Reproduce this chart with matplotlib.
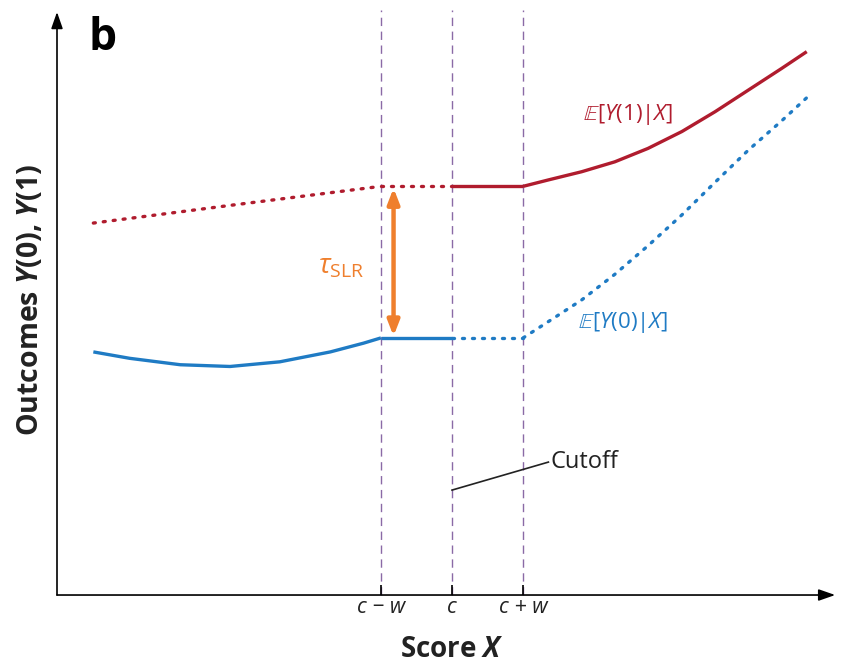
import matplotlib
matplotlib.use("Agg")
import matplotlib.pyplot as plt

# ---------------- data ----------------
c = 50.0
w = 9.0
x_max = 98.5          # end of the x-axis arrow
y_max = 100.0         # end of the y-axis arrow

# E[Y(1)|X]: dotted part left of c-w, flat dotted c-w..c, solid flat c..c+w, solid right
y1_left_x = [4.6, 22.3, 41.0]
y1_left_y = [63.8, 66.9, 70.1]
y1_flat = 70.1
y1_right_x = [59.0, 62.2, 66.4, 70.6, 74.8, 79.1, 83.3, 87.5, 91.7, 94.9]
y1_right_y = [70.1, 71.2, 72.6, 74.3, 76.6, 79.5, 82.9, 86.6, 90.3, 93.2]

# E[Y(0)|X]: solid left, solid flat c-w..c, dotted flat c..c+w, dotted right
y0_left_x = [4.6, 9.2, 15.6, 21.9, 28.2, 34.6, 38.8, 41.0]
y0_left_y = [41.7, 40.6, 39.5, 39.2, 40.0, 41.7, 43.2, 44.1]
y0_flat = 44.1
y0_right_x = [59.0, 62.2, 66.4, 70.6, 74.8, 79.1, 83.3, 87.5, 91.7, 94.9]
y0_right_y = [44.1, 46.9, 50.6, 55.0, 59.9, 65.2, 70.8, 76.3, 81.3, 85.3]

tick_pos = [c - w, c, c + w]
tick_labels = ["c \u2212 w", "c", "c + w"]
tau_x = 42.6

# ---------------- style ----------------
plt.rcParams['font.family'] = ['Open Sans', 'DejaVu Sans']
plt.rcParams['mathtext.fontset'] = 'custom'
plt.rcParams['mathtext.rm'] = 'Open Sans'
plt.rcParams['mathtext.it'] = 'Open Sans:italic'
plt.rcParams['mathtext.bf'] = 'Open Sans:bold'
plt.rcParams['mathtext.bfit'] = 'Open Sans:bold:italic'
plt.rcParams['mathtext.fallback'] = 'stix'

RED = '#b01c2e'
BLUE = '#1f7bc4'
ORANGE = '#ef7f2d'
PURPLE = '#8a6aa6'
TXT = '#222222'
LW = 2.4
DOT = (0, (0.6, 2.4))

fig = plt.figure(figsize=(8.46, 6.63), dpi=100)
ax = fig.add_axes([0, 0, 1, 1])
ax.set_xlim(-7.215, 99.87)
ax.set_ylim(-11.66, 102.06)
ax.axis('off')

# axes arrows
ax.annotate('', xy=(x_max, 0), xytext=(0, 0),
            arrowprops=dict(arrowstyle='-|>,head_length=1.0,head_width=0.35',
                            color='black', lw=1.2, shrinkA=0, shrinkB=0))
ax.annotate('', xy=(0, y_max), xytext=(0, 0),
            arrowprops=dict(arrowstyle='-|>,head_length=1.0,head_width=0.35',
                            color='black', lw=1.2, shrinkA=0, shrinkB=0))

# dashed verticals
ax.vlines(tick_pos, 0, y_max + 0.3, colors=PURPLE, linestyles=(0, (6, 4)), lw=1.0)
# ticks
ax.vlines(tick_pos, 0, 1.8, colors='black', lw=1.2)
for xp, lab in zip(tick_pos, tick_labels):
    ax.text(xp, -2.2, lab, ha='center', va='center', fontsize=15.5,
            style='italic', color=TXT)

# Y(1) curve
ax.plot(y1_left_x, y1_left_y, color=RED, lw=LW, ls=DOT, dash_capstyle='round')
ax.plot([c - w, c], [y1_flat, y1_flat], color=RED, lw=LW, ls=DOT, dash_capstyle='round')
ax.plot([c, c + w], [y1_flat, y1_flat], color=RED, lw=LW, solid_capstyle='butt')
ax.plot(y1_right_x, y1_right_y, color=RED, lw=LW, solid_capstyle='butt',
        solid_joinstyle='round')

# Y(0) curve
ax.plot(y0_left_x, y0_left_y, color=BLUE, lw=LW, solid_capstyle='butt',
        solid_joinstyle='round')
ax.plot([c - w, c], [y0_flat, y0_flat], color=BLUE, lw=LW, solid_capstyle='butt')
ax.plot([c, c + w], [y0_flat, y0_flat], color=BLUE, lw=LW, ls=DOT, dash_capstyle='round')
ax.plot(y0_right_x, y0_right_y, color=BLUE, lw=LW, ls=DOT, dash_capstyle='round')

# tau arrow
ax.annotate('', xy=(tau_x, y1_flat - 0.3), xytext=(tau_x, y0_flat + 0.3),
            arrowprops=dict(arrowstyle='<|-|>,head_length=0.9,head_width=0.35',
                            color=ORANGE, lw=3.2, shrinkA=0, shrinkB=0))
ax.text(36.0, 56.3, r'$\tau_{\mathrm{SLR}}$', color=ORANGE, fontsize=20,
        ha='center', va='center')

# curve labels
ax.text(72.3, 82.5, r'$\mathbb{E}$[$Y$(1)|$X$]', color=RED, fontsize=16,
        ha='center', va='center')
ax.text(71.7, 46.8, r'$\mathbb{E}$[$Y$(0)|$X$]', color=BLUE, fontsize=16,
        ha='center', va='center')

# cutoff annotation
ax.plot([c, 62.2], [18.0, 22.8], color=TXT, lw=1.2)
ax.text(62.5, 22.8, 'Cutoff', fontsize=17, ha='left', va='center', color=TXT)

# panel letter and axis labels
ax.text(4.0, 95.4, 'b', fontsize=32, fontweight='bold', ha='left', va='center')
ax.text(50.0, -9.4, r'Score $\mathbfit{X}$', fontsize=20, fontweight='bold',
        ha='center', va='center', color=TXT)
ax.text(-3.4, 50.6, r'Outcomes $\mathbfit{Y}$(0), $\mathbfit{Y}$(1)', fontsize=20.5,
        fontweight='bold', rotation=90, ha='center', va='center', color=TXT)

fig.savefig('out.png', dpi=100)
